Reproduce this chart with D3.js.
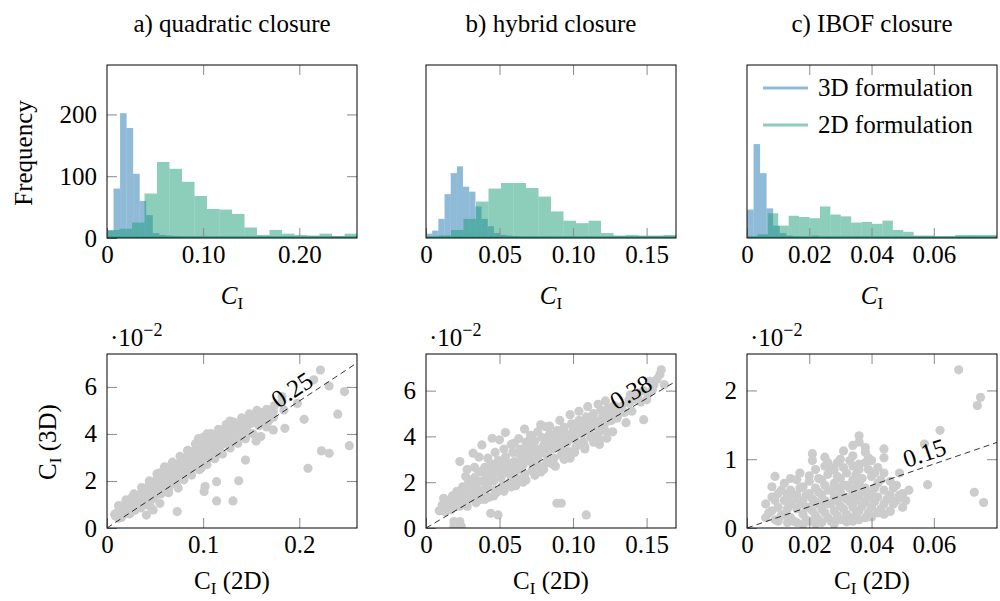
<!DOCTYPE html>
<html>
<head>
<meta charset="utf-8">
<title>closure comparison</title>
<style>
  body { margin: 0; background: #fff; }
  svg text { font-family: "Liberation Serif", "DejaVu Serif", serif; fill: #000; }
</style>
</head>
<body>
<svg width="1000" height="601" font-family="Liberation Serif, DejaVu Serif, serif"></svg>
<script src="https://d3js.org/d3.v7.min.js"></script>
<script>
// ---- data ----
const panelTitles = ["a) quadratic closure", "b) hybrid closure", "c) IBOF closure"];
const xMax = [0.26, 0.17, 0.0803];
const xTicks = [[0, 0.10, 0.20], [0, 0.05, 0.10, 0.15], [0, 0.02, 0.04, 0.06]];
const xTickLabelsTop = [["0", "0.10", "0.20"], ["0", "0.05", "0.10", "0.15"], ["0", "0.02", "0.04", "0.06"]];
const xTickLabelsBottom = [["0", "0.1", "0.2"], ["0", "0.05", "0.10", "0.15"], ["0", "0.02", "0.04", "0.06"]];
const freqTicks = [0, 100, 200];
const freqMax = 280;

// histograms: bin start, bin width and counts per panel
const hist3dStart = [0, 0, 0];
const hist3dWidth = [0.0068, 0.0042, 0.0021];
const hist3dCounts = [
  [12, 80, 202, 178, 104, 60, 37, 8, 5, 4, 3, 2, 2, 1, 1],
  [7, 12, 31, 71, 105, 116, 83, 75, 51, 31, 19, 8, 5, 4, 3, 2, 1, 1, 1, 1],
  [46, 152, 105, 48, 20, 8, 4, 2, 1, 1, 4, 1, 1]
];
const hist2dStart = [0, 0, 0];
const hist2dWidth = [0.013, 0.0085, 0.003346];
const hist2dCounts = [
  [13, 15, 25, 72, 123, 112, 91, 68, 47, 46, 39, 17, 5, 13, 7, 5, 4, 7, 3, 7],
  [2, 4, 13, 31, 59, 80, 89, 89, 81, 67, 43, 28, 24, 28, 8, 4, 5, 4, 4, 5],
  [1, 6, 40, 20, 36, 34, 32, 51, 38, 35, 25, 26, 23, 28, 13, 10, 4, 4, 2, 2, 5, 5, 5, 5]
];
const seriesNames = ["3D formulation", "2D formulation"];

// scatter: [C_I(2D), C_I(3D) in 1e-2]
const yMaxScatter = [7.4, 7.6, 2.53];
const yTicksScatter = [[0, 2, 4, 6], [0, 2, 4, 6], [0, 1, 2]];
const slopes = [0.27, 0.377, 0.155];
const slopeLabels = ["0.25", "0.38", "0.15"];
const slopeLabelAt = [0.2, 0.144, 0.0584];

const scatterA = [
  [0.009,0.50],[0.011,0.66],[0.012,0.42],[0.014,0.78],[0.016,0.58],
  [0.018,0.92],[0.019,0.70],[0.021,1.02],[0.022,0.80],[0.024,0.62],
  [0.025,1.12],[0.026,0.90],[0.028,1.26],[0.029,0.76],[0.030,1.05],
  [0.032,1.38],[0.033,0.92],[0.034,1.18],[0.036,1.50],[0.037,1.02],
  [0.038,1.30],[0.040,1.62],[0.041,1.12],[0.042,1.42],[0.043,1.78],
  [0.045,1.25],[0.046,1.55],[0.047,1.90],[0.049,1.35],[0.050,1.68],
  [0.051,2.02],[0.053,1.45],[0.054,1.80],[0.055,2.12],[0.057,1.58],
  [0.058,1.92],[0.059,2.28],[0.061,1.70],[0.062,2.05],[0.063,2.40],
  [0.065,1.82],[0.066,2.18],[0.067,2.50],[0.069,1.95],[0.070,2.30],
  [0.071,2.62],[0.073,2.08],[0.074,2.42],[0.075,2.75],[0.077,2.20],
  [0.078,2.55],[0.079,2.88],[0.081,2.35],[0.082,2.68],[0.083,3.00],
  [0.085,2.48],[0.086,2.80],[0.087,3.12],[0.089,2.60],[0.090,2.95],
  [0.091,3.28],[0.093,2.72],[0.094,3.08],[0.095,3.42],[0.097,2.85],
  [0.098,3.20],[0.099,3.55],[0.101,2.98],[0.102,3.32],[0.103,3.66],
  [0.105,3.10],[0.106,3.45],[0.107,3.78],[0.109,3.22],[0.110,3.56],
  [0.111,3.90],[0.113,3.35],[0.114,3.68],[0.115,4.00],[0.117,3.46],
  [0.118,3.80],[0.119,4.10],[0.121,3.58],[0.122,3.90],[0.123,4.22],
  [0.125,3.70],[0.126,4.02],[0.127,4.32],[0.129,3.82],[0.130,4.14],
  [0.132,3.92],[0.133,4.25],[0.135,4.04],[0.136,4.38],[0.138,4.15],
  [0.140,4.48],[0.142,4.26],[0.144,4.58],[0.146,4.36],[0.148,4.70],
  [0.150,4.46],[0.153,4.80],[0.156,4.56],[0.159,4.92],[0.162,4.66],
  [0.166,5.05],[0.170,4.80],[0.174,5.20],
  [0.020,0.82],[0.030,1.12],[0.040,1.40],[0.050,1.70],[0.060,1.98],
  [0.070,2.25],[0.080,2.55],[0.090,2.85],[0.100,3.18],[0.110,3.45],
  [0.120,3.72],[0.060,2.60],[0.064,1.50],[0.098,2.55],[0.095,3.80],
  [0.074,1.70],[0.084,3.30],[0.104,4.00],[0.118,3.20],[0.128,4.55],
  [0.055,2.35],[0.045,1.95],[0.035,0.85],[0.026,1.30],
  [0.015,0.45],[0.023,0.60],[0.031,0.85],[0.039,1.05],[0.048,1.25],
  [0.056,1.45],[0.064,1.62],[0.072,1.85],[0.080,2.05],[0.088,2.25],
  [0.096,2.48],[0.104,2.70],[0.112,2.95],[0.120,3.15],[0.128,3.40],
  [0.136,3.60],[0.144,3.80],[0.152,4.00],
  [0.012,0.95],[0.020,1.20],[0.028,1.45],[0.036,1.72],[0.044,2.00],
  [0.052,2.30],[0.060,2.58],[0.068,2.80],[0.076,3.05],[0.084,3.30],
  [0.092,3.58],[0.100,3.85],[0.108,4.02],[0.116,4.20],[0.124,4.40],
  [0.132,4.50],[0.140,4.68],[0.148,4.85],[0.156,5.00],
  [0.017,0.88],[0.027,1.02],[0.033,1.25],[0.044,1.60],[0.052,1.85],
  [0.063,2.25],[0.068,2.05],[0.076,2.48],[0.083,2.72],[0.088,3.00],
  [0.092,2.70],[0.096,3.15],[0.104,3.40],[0.108,3.00],[0.112,3.70],
  [0.116,3.30],[0.124,3.95],[0.128,3.60],[0.134,4.10],[0.139,3.95],
  [0.143,4.30],[0.147,4.05],[0.152,4.55],[0.158,4.35],[0.163,4.85],
  [0.168,4.55],
  [0.008,0.58],[0.010,0.62],[0.041,0.55],[0.073,0.70],[0.114,1.15],
  [0.131,1.15],[0.137,2.01],[0.144,2.89],[0.114,1.97],[0.102,1.76],
  [0.101,1.55],[0.209,2.54],[0.223,3.28],[0.231,3.18],[0.252,3.50],
  [0.240,4.84],[0.205,4.62],[0.198,5.30],[0.184,5.02],[0.231,6.04],
  [0.247,5.80],[0.222,6.72],[0.215,6.30],[0.182,5.59],[0.182,5.38],
  [0.173,4.95],[0.185,4.24],[0.173,4.17],[0.160,3.89],[0.163,4.52],
  [0.150,4.62],[0.173,4.71],[0.045,0.91],[0.048,0.77],[0.055,1.05],
  [0.038,0.98],[0.019,1.05],[0.055,1.97],[0.155,3.70],[0.166,4.30]
];

const scatterB = [
  [0.009,0.75],[0.011,1.00],[0.013,0.85],[0.015,1.20],[0.016,0.95],
  [0.018,1.40],[0.019,1.10],[0.021,1.60],[0.022,1.25],[0.023,0.95],
  [0.025,1.80],[0.026,1.45],[0.027,1.10],[0.029,2.00],[0.030,1.65],
  [0.031,1.30],[0.033,2.20],[0.034,1.85],[0.035,1.50],[0.036,2.45],
  [0.038,2.05],[0.039,1.65],[0.040,2.65],[0.041,2.30],[0.042,1.80],
  [0.044,2.80],[0.045,2.45],[0.046,2.05],[0.047,1.65],[0.049,2.95],
  [0.050,2.60],[0.051,2.20],[0.052,1.85],[0.054,3.10],[0.055,2.75],
  [0.056,2.40],[0.057,2.00],[0.059,3.30],[0.060,2.90],[0.061,2.55],
  [0.062,2.15],[0.064,3.45],[0.065,3.10],[0.066,2.75],[0.067,2.35],
  [0.069,3.60],[0.070,3.25],[0.071,2.90],[0.072,2.50],[0.074,3.80],
  [0.075,3.45],[0.076,3.10],[0.077,2.70],[0.079,3.95],[0.080,3.60],
  [0.081,3.25],[0.082,2.85],[0.084,4.10],[0.085,3.80],[0.086,3.45],
  [0.087,3.05],[0.089,4.25],[0.090,3.95],[0.091,3.60],[0.092,3.20],
  [0.094,4.40],[0.095,4.10],[0.096,3.75],[0.097,3.35],[0.099,4.55],
  [0.100,4.25],[0.101,3.90],[0.102,3.55],[0.104,4.70],[0.105,4.40],
  [0.106,4.10],[0.107,3.75],[0.109,4.85],[0.110,4.55],[0.111,4.25],
  [0.112,3.95],[0.114,5.00],[0.115,4.70],[0.116,4.40],[0.117,4.10],
  [0.119,5.15],[0.120,4.85],[0.121,4.55],[0.122,4.25],[0.124,5.25],
  [0.125,5.00],[0.126,4.70],[0.128,5.35],[0.129,5.10],[0.130,4.85],
  [0.133,5.30],[0.135,5.05],[0.138,5.45],[0.141,5.60],[0.144,5.80],
  [0.148,6.00],[0.151,5.85],
  [0.020,1.35],[0.030,1.70],[0.040,2.05],[0.050,2.40],[0.060,2.75],
  [0.070,3.10],[0.080,3.45],[0.090,3.80],[0.100,4.15],[0.110,4.50],
  [0.120,4.80],[0.040,1.45],[0.043,1.35],[0.058,1.80],[0.068,3.75],
  [0.012,1.30],[0.017,0.80],[0.024,1.55],[0.028,0.95],[0.032,1.95],
  [0.037,1.25],[0.043,2.55],[0.048,1.55],[0.053,2.95],[0.058,2.25],
  [0.063,3.25],[0.068,2.10],[0.073,3.50],[0.078,2.45],[0.083,3.85],
  [0.088,2.70],[0.093,4.30],[0.098,3.05],[0.103,4.60],[0.108,3.45],
  [0.113,4.85],[0.118,3.65],[0.123,5.10],[0.127,4.20],[0.132,5.20],
  [0.136,4.60],[0.140,5.10],[0.146,5.50],[0.150,5.60],[0.154,6.05],
  [0.157,6.50],
  [0.027,2.25],[0.033,2.65],[0.042,3.05],[0.047,3.30],[0.053,3.45],
  [0.058,3.65],[0.063,3.90],[0.071,4.05],[0.076,4.20],[0.084,4.45],
  [0.091,4.70],[0.098,4.95],[0.104,5.10],[0.110,5.30],[0.117,5.40],
  [0.122,5.55],
  [0.034,1.10],[0.040,1.25],[0.046,1.40],[0.053,1.60],[0.061,1.85],
  [0.066,2.00],[0.074,2.30],[0.080,2.55],[0.086,2.80],[0.094,3.00],
  [0.101,3.30],[0.108,3.55],[0.114,3.75],
  [0.044,2.15],[0.052,2.65],[0.057,2.80],[0.063,2.55],[0.069,3.05],
  [0.073,2.75],[0.078,3.30],[0.083,3.10],[0.088,3.55],[0.093,3.40],
  [0.097,3.90],[0.103,3.70],[0.108,4.25],[0.113,4.00],[0.118,4.45],
  [0.123,4.65],[0.128,4.80],
  [0.035,2.00],[0.045,2.30],[0.055,2.60],[0.065,2.95],[0.075,3.30],
  [0.085,3.65],[0.095,3.95],[0.105,4.30],[0.115,4.60],[0.125,4.90],
  [0.048,2.75],[0.068,3.40],[0.088,4.05],[0.108,4.65],
  [0.013,0.71],[0.019,0.28],[0.020,0.93],[0.023,0.28],[0.024,0.06],
  [0.019,0.06],[0.044,0.64],[0.049,0.57],[0.089,1.08],[0.092,1.08],
  [0.109,0.57],[0.023,2.90],[0.032,3.27],[0.038,3.63],[0.045,3.92],
  [0.050,3.85],[0.054,4.17],[0.067,4.32],[0.078,4.51],[0.081,4.43],
  [0.032,1.88],[0.148,4.73],[0.123,3.92],[0.118,3.85],[0.126,5.24],
  [0.130,4.80],[0.138,5.60],[0.139,5.82],[0.144,5.89],[0.152,6.40],
  [0.155,6.26],[0.160,6.91],[0.162,6.26],[0.159,6.70],[0.036,3.10],
  [0.028,2.55],[0.060,3.70],[0.072,3.95]
];

const scatterC = [
  [0.006,0.15],[0.006,0.35],[0.008,0.25],[0.008,0.45],[0.008,0.60],
  [0.010,0.10],[0.010,0.30],[0.010,0.50],[0.012,0.20],[0.012,0.40],
  [0.012,0.65],[0.014,0.15],[0.014,0.35],[0.014,0.55],[0.016,0.08],
  [0.016,0.28],[0.016,0.48],[0.016,0.70],[0.018,0.20],[0.018,0.40],
  [0.018,0.60],[0.020,0.10],[0.020,0.30],[0.020,0.50],[0.020,0.68],
  [0.022,0.18],[0.022,0.38],[0.022,0.58],[0.022,0.85],[0.024,0.08],
  [0.024,0.28],[0.024,0.48],[0.024,0.70],[0.026,0.15],[0.026,0.35],
  [0.026,0.55],[0.026,0.78],[0.026,0.95],[0.028,0.25],[0.028,0.45],
  [0.028,0.65],[0.028,0.85],[0.030,0.12],[0.030,0.32],[0.030,0.52],
  [0.030,0.72],[0.030,1.00],[0.032,0.20],[0.032,0.42],[0.032,0.62],
  [0.032,0.80],[0.034,0.10],[0.034,0.30],[0.034,0.50],[0.034,0.70],
  [0.034,0.90],[0.034,1.05],[0.036,0.25],[0.036,0.45],[0.036,0.65],
  [0.036,0.85],[0.036,1.25],[0.038,0.15],[0.038,0.38],[0.038,0.58],
  [0.038,0.95],[0.038,1.10],[0.040,0.30],[0.040,0.50],[0.040,0.75],
  [0.040,0.98],[0.042,0.22],[0.042,0.45],[0.042,0.65],[0.042,0.88],
  [0.044,0.35],[0.044,0.55],[0.044,0.80],[0.046,0.25],[0.046,0.48],
  [0.046,0.68],[0.048,0.40],[0.048,0.62],[0.050,0.30],[0.050,0.50],
  [0.007,0.22],[0.009,0.40],[0.011,0.18],[0.011,0.55],[0.013,0.28],
  [0.013,0.48],[0.015,0.10],[0.015,0.42],[0.017,0.35],[0.017,0.58],
  [0.019,0.12],[0.019,0.48],[0.021,0.25],[0.021,0.42],[0.023,0.12],
  [0.023,0.52],[0.025,0.22],[0.025,0.40],[0.025,0.62],[0.027,0.10],
  [0.027,0.35],[0.027,0.55],[0.029,0.18],[0.029,0.40],[0.029,0.75],
  [0.031,0.28],[0.031,0.45],[0.033,0.15],[0.033,0.38],[0.033,0.58],
  [0.035,0.20],[0.035,0.40],[0.035,0.78],[0.037,0.32],[0.037,0.52],
  [0.037,0.72],[0.039,0.22],[0.039,0.45],[0.039,0.85],[0.041,0.38],
  [0.041,0.58],[0.043,0.28],[0.043,0.70],[0.045,0.42],[0.047,0.35],
  [0.047,0.58],[0.049,0.48],[0.051,0.40],[0.052,0.55],[0.017,0.80],
  [0.014,0.72],[0.023,0.72],[0.027,0.88],[0.033,0.98],[0.039,1.02],
  [0.029,0.95],
  [0.009,0.12],[0.013,0.08],[0.018,0.05],[0.022,0.06],[0.028,0.06],
  [0.032,0.09],[0.036,0.12],[0.040,0.16],[0.044,0.20],[0.019,0.30],
  [0.023,0.35],[0.029,0.58],[0.031,0.62],[0.035,0.58],[0.041,0.80],
  [0.068,2.30],[0.075,1.90],[0.074,1.78],[0.062,1.42],[0.057,1.22],
  [0.058,0.63],[0.073,0.52],[0.076,0.37],[0.049,0.80],[0.036,1.34],
  [0.034,1.20],[0.031,1.12],[0.025,1.03],[0.021,1.08],[0.021,0.98],
  [0.044,1.15],[0.044,1.02],[0.038,1.17],[0.009,0.75],[0.020,0.76],
  [0.025,0.90],[0.031,0.88],[0.036,0.93],[0.046,0.24],[0.050,0.44]
];
const scatterData = [scatterA, scatterB, scatterC];

// ---- layout ----
const svg = d3.select("svg");
const colLeft = [107, 426, 747];
const plotW = 250;
const histTop = 65, histBottom = 238;
const scatTop = 354, scatBottom = 528;
const blue = "#1f77b4", teal = "#1b9e77";
const fs = 25;

function styleAxis(g) {
  g.attr("font-family", null).attr("font-size", null);
  g.select(".domain").remove();
  g.selectAll(".tick line").attr("stroke", "#8a8a8a").attr("stroke-width", 1);
  g.selectAll(".tick text").attr("font-size", fs).attr("fill", "#000");
}

function ciLabel(sel, italic, suffix) {
  sel.append("tspan").attr("font-style", italic ? "italic" : null).text("C");
  sel.append("tspan").attr("dy", 5).attr("font-size", 17).text("I");
  if (suffix) sel.append("tspan").attr("dy", -5).text(suffix);
}

panelTitles.forEach((t, i) => {
  svg.append("text")
    .attr("x", colLeft[i] + plotW / 2).attr("y", 32)
    .attr("text-anchor", "middle").attr("font-size", fs).text(t);
});

for (let i = 0; i < 3; i++) {
  const x = d3.scaleLinear().domain([0, xMax[i]]).range([colLeft[i], colLeft[i] + plotW]);

  // ---------- histogram ----------
  const yH = d3.scaleLinear().domain([0, freqMax]).range([histBottom, histTop]);
  const gh = svg.append("g");
  gh.append("clipPath").attr("id", "ch" + i).append("rect")
    .attr("x", colLeft[i]).attr("y", histTop).attr("width", plotW).attr("height", histBottom - histTop);
  const bars = gh.append("g").attr("clip-path", `url(#ch${i})`);
  bars.selectAll("rect.b3").data(hist3dCounts[i]).join("rect").attr("class", "b3")
    .attr("x", (d, j) => x(hist3dStart[i] + j * hist3dWidth[i]))
    .attr("width", x(hist3dWidth[i]) - x(0))
    .attr("y", d => yH(d)).attr("height", d => histBottom - yH(d))
    .attr("fill", blue).attr("fill-opacity", 0.5);
  bars.selectAll("rect.b2").data(hist2dCounts[i]).join("rect").attr("class", "b2")
    .attr("x", (d, j) => x(hist2dStart[i] + j * hist2dWidth[i]))
    .attr("width", x(hist2dWidth[i]) - x(0))
    .attr("y", d => yH(d)).attr("height", d => histBottom - yH(d))
    .attr("fill", teal).attr("fill-opacity", 0.5);
  bars.append("line").attr("x1", colLeft[i]).attr("x2", colLeft[i] + plotW)
    .attr("y1", histBottom - 1).attr("y2", histBottom - 1)
    .attr("stroke", "#3a9c8e").attr("stroke-width", 1.5);

  gh.append("g").attr("transform", `translate(0,${histBottom})`)
    .call(d3.axisBottom(x).tickValues(xTicks[i]).tickFormat((d, j) => xTickLabelsTop[i][j])
      .tickSizeInner(-10).tickSizeOuter(0).tickPadding(7))
    .call(styleAxis);
  gh.append("g").attr("transform", `translate(0,${histTop})`)
    .call(d3.axisTop(x).tickValues(xTicks[i].slice(1)).tickFormat("").tickSizeInner(-10).tickSizeOuter(0))
    .call(styleAxis);
  if (i === 0) {
    gh.append("g").attr("transform", `translate(${colLeft[i]},0)`)
      .call(d3.axisLeft(yH).tickValues(freqTicks).tickFormat(d3.format("d"))
        .tickSizeInner(-10).tickSizeOuter(0).tickPadding(10))
      .call(styleAxis);
    gh.append("g").attr("transform", `translate(${colLeft[i] + plotW},0)`)
      .call(d3.axisRight(yH).tickValues(freqTicks.slice(1)).tickFormat("").tickSizeInner(-10).tickSizeOuter(0))
      .call(styleAxis);
  }
  gh.append("rect").attr("x", colLeft[i]).attr("y", histTop)
    .attr("width", plotW).attr("height", histBottom - histTop)
    .attr("fill", "none").attr("stroke", "#000").attr("stroke-width", 1);

  const xl = gh.append("text").attr("x", colLeft[i] + plotW / 2).attr("y", 304)
    .attr("text-anchor", "middle").attr("font-size", fs);
  ciLabel(xl, true, null);

  // ---------- scatter ----------
  const yS = d3.scaleLinear().domain([0, yMaxScatter[i]]).range([scatBottom, scatTop]);
  const gs = svg.append("g");
  gs.append("clipPath").attr("id", "cs" + i).append("rect")
    .attr("x", colLeft[i]).attr("y", scatTop).attr("width", plotW).attr("height", scatBottom - scatTop);
  const inner = gs.append("g").attr("clip-path", `url(#cs${i})`);
  inner.selectAll("circle").data(scatterData[i]).join("circle")
    .attr("cx", d => x(d[0])).attr("cy", d => yS(d[1])).attr("r", 4.6)
    .attr("fill", "#cccccc");
  inner.append("line")
    .attr("x1", x(0)).attr("y1", yS(0))
    .attr("x2", x(xMax[i])).attr("y2", yS(slopes[i] * 100 * xMax[i]))
    .attr("stroke", "#000").attr("stroke-width", 0.8).attr("stroke-dasharray", "6,4");

  const ang = Math.atan2(yS(slopes[i] * 100 * xMax[i]) - yS(0), x(xMax[i]) - x(0)) * 180 / Math.PI;
  const lx = x(slopeLabelAt[i]), ly = yS(slopes[i] * 100 * slopeLabelAt[i]);
  gs.append("text").attr("transform", `translate(${lx},${ly}) rotate(${ang})`)
    .attr("dy", -5).attr("text-anchor", "middle").attr("font-size", fs).text(slopeLabels[i]);

  gs.append("g").attr("transform", `translate(0,${scatBottom})`)
    .call(d3.axisBottom(x).tickValues(xTicks[i]).tickFormat((d, j) => xTickLabelsBottom[i][j])
      .tickSizeInner(-10).tickSizeOuter(0).tickPadding(7))
    .call(styleAxis);
  gs.append("g").attr("transform", `translate(0,${scatTop})`)
    .call(d3.axisTop(x).tickValues(xTicks[i].slice(1)).tickFormat("").tickSizeInner(-10).tickSizeOuter(0))
    .call(styleAxis);
  gs.append("g").attr("transform", `translate(${colLeft[i]},0)`)
    .call(d3.axisLeft(yS).tickValues(yTicksScatter[i]).tickFormat(d3.format("d"))
      .tickSizeInner(-10).tickSizeOuter(0).tickPadding(10))
    .call(styleAxis);
  gs.append("g").attr("transform", `translate(${colLeft[i] + plotW},0)`)
    .call(d3.axisRight(yS).tickValues(yTicksScatter[i].slice(1)).tickFormat("").tickSizeInner(-10).tickSizeOuter(0))
    .call(styleAxis);
  gs.append("rect").attr("x", colLeft[i]).attr("y", scatTop)
    .attr("width", plotW).attr("height", scatBottom - scatTop)
    .attr("fill", "none").attr("stroke", "#000").attr("stroke-width", 1);

  const sc = gs.append("text").attr("x", colLeft[i] + 3).attr("y", 346).attr("font-size", fs);
  sc.append("tspan").text("\u00b710");
  sc.append("tspan").attr("dy", -10).attr("font-size", 18).text("\u22122");

  const xb = gs.append("text").attr("x", colLeft[i] + plotW / 2).attr("y", 589)
    .attr("text-anchor", "middle").attr("font-size", fs);
  ciLabel(xb, false, " (2D)");
}

// y labels
svg.append("text").attr("transform", "translate(32,153) rotate(-90)")
  .attr("text-anchor", "middle").attr("font-size", fs).text("Frequency");
const yl = svg.append("text").attr("transform", "translate(56,442) rotate(-90)")
  .attr("text-anchor", "middle").attr("font-size", fs);
ciLabel(yl, false, " (3D)");

// legend in panel c
const legend = svg.append("g");
seriesNames.forEach((n, k) => {
  const yy = 88 + k * 37;
  legend.append("line").attr("x1", 763).attr("x2", 808).attr("y1", yy).attr("y2", yy)
    .attr("stroke", k === 0 ? blue : teal).attr("stroke-opacity", 0.5).attr("stroke-width", 3);
  legend.append("text").attr("x", 818).attr("y", yy + 8).attr("font-size", fs).text(n);
});
</script>
</body>
</html>
